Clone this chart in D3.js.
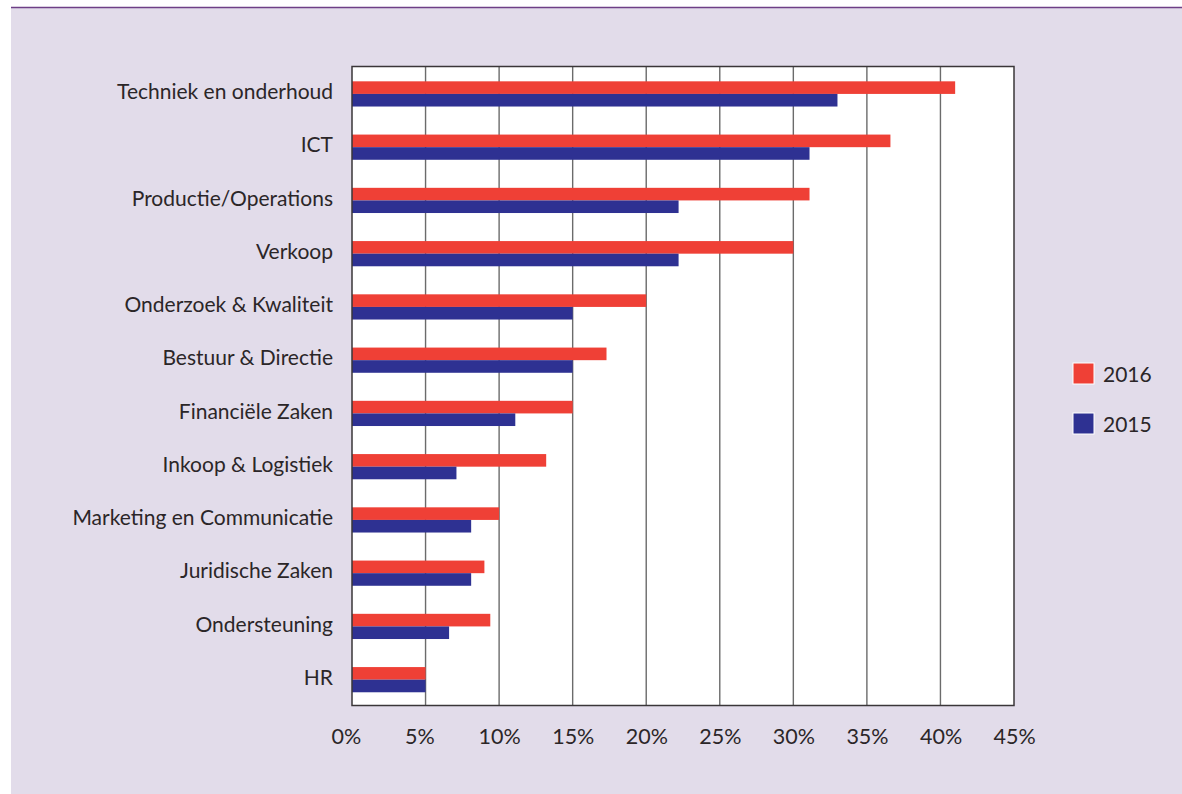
<!DOCTYPE html>
<html>
<head>
<meta charset="utf-8">
<script src="https://cdn.jsdelivr.net/npm/d3@7/dist/d3.min.js"></script>
<style>
  html, body { margin: 0; padding: 0; background: #ffffff; }
  svg { display: block; }
  text { font-family: Lato, "Open Sans", sans-serif; fill: #2b2628; }
</style>
</head>
<body>
<svg id="chart" width="1182" height="794"></svg>
<script>
// Functiegebieden, van boven naar beneden
const categories = [
  "Techniek en onderhoud", "ICT", "Productie/Operations", "Verkoop",
  "Onderzoek & Kwaliteit", "Bestuur & Directie", "Financiële Zaken",
  "Inkoop & Logistiek", "Marketing en Communicatie", "Juridische Zaken",
  "Ondersteuning", "HR"
];
// Percentages per jaar
const values2016 = [41, 36.6, 31.1, 30, 20, 17.3, 15, 13.2, 10, 9, 9.4, 5];
const values2015 = [33, 31.1, 22.2, 22.2, 15, 15, 11.1, 7.1, 8.1, 8.1, 6.6, 5];
const seriesNames = ["2016", "2015"];
const tickValues = [0, 5, 10, 15, 20, 25, 30, 35, 40, 45];

const colors = { "2016": "#ef4036", "2015": "#2e3192" };
const series = [
  { name: "2016", values: values2016 },
  { name: "2015", values: values2015 }
];

const svg = d3.select("#chart");

// Achtergrondpaneel met paarse bovenrand
svg.append("rect").attr("x", 11).attr("y", 7).attr("width", 1171).attr("height", 787)
  .attr("fill", "#e2dcea");
svg.append("line").attr("x1", 11).attr("x2", 1182).attr("y1", 7.5).attr("y2", 7.5)
  .attr("stroke", "#6e3f86").attr("stroke-width", 1.6);

const plot = { left: 352, right: 1014, top: 66.5, bottom: 705.5 };

const x = d3.scaleLinear().domain([0, 45]).range([plot.left, plot.right]);
const y = d3.scaleBand().domain(categories).range([plot.top, plot.bottom]).paddingInner(0).paddingOuter(0);
const barH = 12.6;

// Plotgebied
svg.append("rect")
  .attr("x", plot.left).attr("y", plot.top)
  .attr("width", plot.right - plot.left).attr("height", plot.bottom - plot.top)
  .attr("fill", "#ffffff");

// Verticale rasterlijnen
svg.append("g").selectAll("line").data(tickValues.slice(1, -1)).join("line")
  .attr("x1", d => x(d)).attr("x2", d => x(d))
  .attr("y1", plot.top).attr("y2", plot.bottom)
  .attr("stroke", "#6b6b6b").attr("stroke-width", 1.4);

// Balken
const groups = svg.append("g").selectAll("g").data(series).join("g")
  .attr("fill", d => colors[d.name]);
groups.each(function (s, si) {
  d3.select(this).selectAll("rect").data(s.values).join("rect")
    .attr("x", x(0))
    .attr("y", (d, i) => y(categories[i]) + y.bandwidth() / 2 + 0.8 - barH + si * barH)
    .attr("width", d => x(d) - x(0))
    .attr("height", barH);
});

// Kader rond het plotgebied
svg.append("rect")
  .attr("x", plot.left).attr("y", plot.top)
  .attr("width", plot.right - plot.left).attr("height", plot.bottom - plot.top)
  .attr("fill", "none").attr("stroke", "#3a3638").attr("stroke-width", 1.5);

// X-as: labels links uitgelijnd, iets links van de rasterlijn
const xAxis = svg.append("g").attr("transform", `translate(0,${plot.bottom})`)
  .call(d3.axisBottom(x).tickValues(tickValues).tickFormat(d => d + "%").tickSize(0).tickPadding(23));
xAxis.select(".domain").remove();
xAxis.selectAll("text").attr("font-size", 21.5).attr("font-family", "Lato, sans-serif").attr("fill", "#2b2628")
  .attr("text-anchor", "start").attr("dx", -21);

// Y-as labels
const yAxis = svg.append("g").attr("transform", `translate(${plot.left},0)`)
  .call(d3.axisLeft(y).tickSize(0).tickPadding(19));
yAxis.select(".domain").remove();
yAxis.selectAll("text").attr("font-size", 21).attr("font-family", "Lato, sans-serif").attr("fill", "#2b2628")
  .attr("dy", "0.28em");

// Legenda
const legend = svg.append("g").selectAll("g").data(seriesNames).join("g")
  .attr("transform", (d, i) => `translate(1073,${363 + i * 50})`);
legend.append("rect").attr("width", 21).attr("height", 21)
  .attr("fill", d => colors[d]).attr("stroke", "#ffffff").attr("stroke-width", 1);
legend.append("text").attr("x", 30).attr("y", 19).attr("font-size", 21).text(d => d);
</script>
</body>
</html>
